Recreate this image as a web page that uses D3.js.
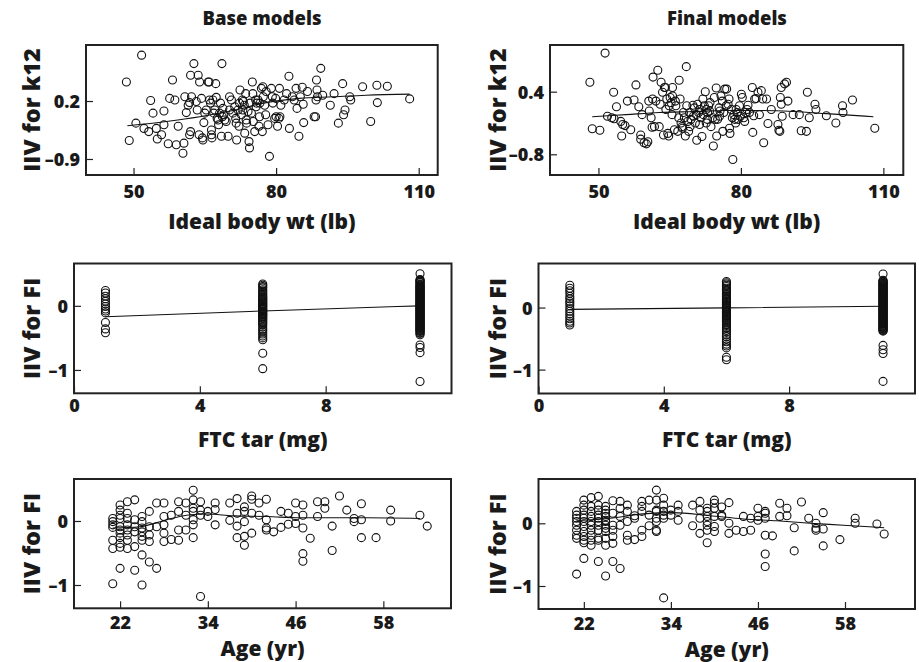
<!DOCTYPE html>
<html>
<head>
<meta charset="utf-8">
<script src="https://cdn.jsdelivr.net/npm/d3@7"></script>
<style>
  html, body { margin: 0; padding: 0; background: #fff; }
  svg text { font-family: "Open Sans", Lato, "DejaVu Sans", sans-serif; font-weight: 800; fill: #1a1a1a; }
</style>
</head>
<body>
<svg id="chart" width="919" height="662"></svg>
<script>
// ---------- DATA ----------
const columnTitles = ["Base models", "Final models"];

// Row 1: ideal body weight (lb) vs IIV for k12
const ibwBaseX = [48.5,51.7,49.1,50.5,52.2,53.2,53.6,54.1,54.8,55.0,55.9,56.4,56.4,57.3,57.6,58.2,58.7,59.0,59.4,60.4,60.6,60.8,61.1,61.5,61.8,61.8,62.0,62.0,62.2,62.7,63.2,63.4,63.6,63.8,63.9,64.3,64.5,64.6,64.8,65.0,65.3,65.7,65.9,66.0,66.2,66.4,66.4,66.5,66.7,66.9,67.1,67.3,67.4,67.6,67.8,67.9,68.1,68.3,68.5,68.6,68.7,68.8,69.0,69.2,69.5,69.9,70.2,70.2,70.6,70.9,71.3,71.5,71.6,71.7,72.0,72.2,72.3,72.4,72.7,72.9,73.0,73.1,73.3,73.4,73.6,73.7,73.8,74.1,74.3,74.4,74.5,74.8,75.0,75.1,75.2,75.5,75.7,75.8,75.9,76.2,76.4,76.5,76.6,76.9,77.1,77.2,77.3,77.6,77.8,77.9,78.3,78.6,79.0,79.2,79.3,79.7,79.9,80.0,80.3,80.6,80.7,80.8,81.0,81.7,82.2,82.7,82.8,83.4,83.8,84.2,84.4,84.8,85.1,85.5,85.7,85.8,86.6,88.0,88.3,88.4,88.5,88.6,88.7,89.4,89.8,91.4,92.2,93.1,94.0,94.2,94.5,95.5,95.7,98.2,99.9,101.2,101.3,103.4,108.1];
const ibwBaseY = [0.56,1.07,-0.55,-0.22,-0.32,-0.38,0.21,-0.03,-0.32,-0.52,-0.44,0.01,-0.25,-0.61,0.25,0.60,0.22,-0.63,-0.28,-0.79,-0.60,0.28,-0.02,0.12,0.17,-0.44,-0.38,0.69,0.28,0.91,0.19,0.03,0.69,-0.44,0.56,0.25,-0.50,-0.54,-0.21,-0.03,0.03,0.56,0.56,0.22,0.16,-0.35,-0.44,-0.50,0.22,-0.03,0.03,0.53,0.27,-0.13,-0.16,-0.25,-0.03,0.16,-0.47,0.91,-0.10,0.06,-0.06,-0.16,-0.19,-0.47,0.28,0.03,0.22,-0.03,0.09,-0.13,-0.22,-0.54,0.03,-0.28,0.16,0.41,-0.06,0.22,0.03,0.19,0.12,-0.41,0.34,-0.16,-0.22,0.00,-0.57,-0.69,0.16,-0.03,0.56,0.34,-0.19,-0.38,0.22,0.09,0.16,0.22,-0.28,-0.10,0.16,0.44,-0.38,0.47,0.28,0.12,-0.06,0.38,-0.25,-0.85,0.44,0.28,0.16,-0.13,0.25,-0.10,-0.28,-0.13,0.44,-0.10,0.12,0.22,0.34,0.67,-0.32,0.28,0.22,0.44,0.06,-0.47,0.28,0.46,0.14,-0.21,0.38,-0.10,-0.10,0.22,0.60,0.41,0.28,0.82,0.31,0.12,0.34,-0.22,0.53,-0.06,0.03,0.28,0.22,0.47,-0.19,0.50,0.17,0.48,0.24];
const ibwBaseFitX = [48.7,56.9,63.9,70.9,77.9,84.9,91.9,98.9,108.1];
const ibwBaseFitY = [-0.27,-0.19,-0.10,0.02,0.17,0.25,0.28,0.31,0.33];

const ibwFinalX = [48.2,48.7,50.3,51.4,51.9,52.8,53.2,53.3,53.8,54.7,54.9,55.1,55.6,56.1,56.8,57.5,57.9,58.5,58.9,58.9,59.2,59.6,60.1,60.4,60.6,60.7,61.1,61.3,61.4,61.5,61.8,62.1,62.5,62.8,63.0,63.2,63.5,63.7,63.9,64.1,64.2,64.4,64.6,64.8,64.9,65.1,65.3,65.5,65.6,65.6,66.0,66.2,66.3,66.7,66.9,67.0,67.2,67.4,67.6,67.7,67.9,68.1,68.3,68.5,68.6,68.8,69.0,69.2,69.3,69.5,69.9,70.0,70.2,70.4,70.6,70.7,70.9,71.1,71.3,71.4,71.6,71.8,72.0,72.1,72.3,72.5,72.7,72.7,72.9,73.0,73.2,73.4,73.5,73.7,74.1,74.2,74.4,74.6,74.8,74.9,75.1,75.4,75.5,75.6,75.8,76.1,76.2,76.4,76.6,76.9,77.0,77.3,77.5,77.6,77.7,78.0,78.2,78.3,78.5,78.7,78.9,79.0,79.2,79.4,79.7,79.9,80.1,80.3,80.6,80.8,81.0,81.3,81.5,81.8,82.4,82.5,82.7,82.9,83.2,83.6,83.9,84.3,84.6,84.8,85.4,85.7,86.4,87.8,88.0,88.2,88.3,88.5,88.5,88.7,89.2,89.6,89.9,91.0,92.3,92.7,93.8,94.0,94.4,95.6,95.8,98.0,100.0,101.4,101.5,103.5,108.2];
const ibwFinalY = [0.58,-0.31,-0.34,1.14,-0.07,-0.10,0.39,-0.12,0.11,-0.17,-0.45,-0.23,-0.25,0.22,-0.33,0.24,0.53,0.11,-0.43,-0.51,-0.04,-0.58,-0.60,-0.56,0.22,0.03,-0.10,-0.28,0.26,0.68,-0.27,0.22,0.81,-0.27,0.16,0.58,0.39,-0.43,0.48,0.48,0.06,0.26,-0.40,-0.45,0.13,0.29,0.19,-0.04,0.48,0.32,-0.33,0.22,0.13,-0.36,-0.10,0.62,0.26,-0.20,-0.27,-0.30,0.00,-0.10,-0.45,0.88,0.13,-0.17,-0.36,0.00,-0.27,-0.13,0.14,-0.07,0.09,-0.20,-0.04,-0.53,0.16,0.00,-0.23,0.06,-0.10,-0.46,0.26,-0.04,0.13,0.40,-0.20,0.06,-0.13,0.00,0.13,0.03,0.19,-0.27,-0.10,-0.64,0.29,-0.13,0.47,-0.45,-0.13,0.09,-0.07,0.03,0.32,0.22,-0.36,0.00,0.45,0.13,0.45,0.16,0.26,-0.30,-0.40,0.06,-0.10,-0.90,-0.04,-0.13,-0.20,0.06,0.00,-0.13,0.13,-0.07,0.35,0.29,-0.10,-0.17,0.00,0.06,0.14,0.00,0.48,-0.38,-0.06,0.26,0.27,0.39,-0.04,0.42,0.26,-0.58,0.26,-0.21,0.06,-0.23,-0.34,-0.36,0.29,0.48,0.16,-0.07,0.55,0.58,0.22,-0.04,-0.04,-0.35,-0.36,0.39,-0.10,0.16,0.06,-0.06,-0.20,0.13,0.00,0.24,-0.30];
const ibwFinalFitX = [48.7,55.8,62.8,69.9,76.9,83.9,91.0,98.0,107.9];
const ibwFinalFitY = [-0.08,-0.04,0.00,0.02,0.04,0.04,0.02,-0.02,-0.08];

// Row 2: FTC tar (mg) vs IIV for FI
const ftcDoses = [1, 6, 11];
const ftcBaseIIV = [
  [0.24,0.20,0.15,0.11,0.07,0.03,-0.01,-0.05,-0.08,-0.11,-0.26,-0.36,-0.42],
  [0.34,0.32,0.30,0.28,0.25,0.23,0.21,0.19,0.17,0.15,0.13,0.12,0.10,0.09,0.07,0.06,0.04,0.03,0.02,0.00,-0.01,-0.02,-0.04,-0.05,-0.06,-0.08,-0.09,-0.10,-0.12,-0.13,-0.14,-0.16,-0.17,-0.19,-0.20,-0.22,-0.24,-0.26,-0.28,-0.30,-0.33,-0.36,-0.38,-0.41,-0.44,-0.47,-0.50,-0.53,-0.74,-0.98],
  [0.50,0.41,0.40,0.39,0.38,0.37,0.36,0.34,0.33,0.32,0.31,0.30,0.29,0.28,0.27,0.26,0.25,0.24,0.23,0.22,0.21,0.20,0.19,0.18,0.17,0.16,0.15,0.14,0.13,0.12,0.11,0.10,0.09,0.08,0.07,0.06,0.05,0.04,0.03,0.02,0.01,0.00,-0.01,-0.02,-0.03,-0.04,-0.05,-0.06,-0.07,-0.08,-0.09,-0.10,-0.11,-0.12,-0.13,-0.14,-0.15,-0.16,-0.17,-0.18,-0.19,-0.20,-0.21,-0.22,-0.23,-0.24,-0.25,-0.26,-0.27,-0.28,-0.29,-0.30,-0.31,-0.32,-0.33,-0.34,-0.35,-0.36,-0.37,-0.38,-0.39,-0.40,-0.42,-0.43,-0.45,-0.61,-0.65,-0.73,-1.18]
];
const ftcBaseFitY = [-0.17, -0.08, 0.0];
const ftcFinalIIV = [
  [0.36,0.31,0.27,0.23,0.18,0.14,0.10,0.07,0.03,-0.02,-0.06,-0.10,-0.14,-0.18,-0.22,-0.25,-0.28],
  [0.42,0.40,0.38,0.36,0.34,0.31,0.29,0.27,0.25,0.23,0.21,0.19,0.18,0.16,0.14,0.13,0.11,0.10,0.08,0.07,0.05,0.04,0.02,0.01,-0.01,-0.02,-0.04,-0.05,-0.07,-0.08,-0.10,-0.11,-0.13,-0.14,-0.16,-0.18,-0.19,-0.21,-0.23,-0.25,-0.27,-0.29,-0.32,-0.34,-0.37,-0.40,-0.44,-0.47,-0.51,-0.55,-0.59,-0.62,-0.65,-0.80,-0.84],
  [0.54,0.44,0.43,0.42,0.41,0.40,0.39,0.38,0.37,0.36,0.35,0.34,0.33,0.32,0.31,0.30,0.29,0.28,0.27,0.26,0.25,0.24,0.23,0.22,0.21,0.20,0.19,0.18,0.17,0.16,0.15,0.14,0.13,0.12,0.11,0.10,0.09,0.08,0.07,0.06,0.05,0.04,0.03,0.02,0.01,0.00,-0.01,-0.02,-0.03,-0.04,-0.05,-0.06,-0.07,-0.08,-0.09,-0.10,-0.11,-0.12,-0.13,-0.14,-0.15,-0.16,-0.17,-0.18,-0.19,-0.20,-0.21,-0.22,-0.23,-0.24,-0.25,-0.26,-0.27,-0.28,-0.29,-0.30,-0.31,-0.32,-0.33,-0.34,-0.35,-0.36,-0.37,-0.38,-0.61,-0.68,-0.74,-1.19]
];
const ftcFinalFitY = [-0.03, -0.005, 0.02];

// Row 3: age (yr) vs IIV for FI
const ageBaseX = [21,21,21,21,21,21,21, 22,22,22,22,22,22,22,22,22,22,22, 23,23,23,23,23,23,23,23, 24,24,24,24,24,24, 25,25,25,25,25,25,25,25, 26,26,26,26,26, 27,27,27, 28,28,28,28,28, 29,29, 30,30,30,30, 31,31,31, 32,32,32,32,32,32,32, 33,33,33,33, 34,34, 35,35,35, 37,37, 38,38,38,38, 39,39,39,39,39, 40,40,40,40, 41,41, 42,42,42,42, 43, 44,44, 45,45, 46,46,46, 47,47,47,47,47, 48, 49,49, 50,50, 51,51, 52, 53, 54,54, 55,55,55, 57, 59,59, 63, 64];
const ageBaseY = [0.04,-0.01,-0.06,-0.10,-0.30,-0.43,-0.98, 0.25,0.17,0.09,0.04,-0.09,-0.14,-0.19,-0.26,-0.35,-0.41,-0.74, 0.30,0.12,0.04,-0.06,-0.14,-0.22,-0.30,-0.43, 0.33,0.02,-0.09,-0.17,-0.40,-0.77, 0.07,-0.01,-0.11,-0.17,-0.24,-0.30,-0.53,-1.00, 0.15,-0.09,-0.22,-0.32,-0.64, 0.28,-0.09,-0.74, 0.28,0.07,-0.06,-0.19,-0.32, 0.09,-0.29, 0.30,0.15,-0.14,-0.30, 0.28,0.09,-0.14, 0.48,0.33,0.20,0.15,0.02,-0.06,-0.26, 0.30,0.17,0.09,-1.18, 0.15,0.07, 0.28,0.18,-0.06, 0.28,0.01, 0.35,0.12,-0.08,-0.26, 0.22,0.15,-0.01,-0.24,-0.38, 0.39,0.34,0.12,-0.19, 0.28,0.09, 0.34,0.02,-0.11,-0.14, -0.17, 0.15,-0.10, 0.12,-0.05, 0.28,0.07,-0.04, 0.25,0.09,-0.11,-0.51,-0.63, -0.27, 0.30,0.07, 0.30,0.20, -0.08,-0.46, 0.39, 0.17, 0.04,-0.01, 0.27,0.02,-0.26, -0.26, 0.17,0.00, 0.09, -0.08];
const ageBaseFitX = [21.0,24.7,28.4,31.1,33.9,37.5,42.1,46.6,51.2,55.7,63.0];
const ageBaseFitY = [-0.11,-0.09,0.02,0.09,0.11,0.08,0.07,0.05,0.05,0.05,0.04];

const ageFinalX = [21,21,21,21,21,21,21,21,21, 22,22,22,22,22,22,22,22,22,22,22,22, 23,23,23,23,23,23,23,23,23,23, 24,24,24,24,24,24,24,24,24,24,24, 25,25,25,25,25,25,25,25,25,25,25,25, 26,26,26,26,26,26,26, 27,27,27,27,27, 28,28,28,28,28, 29,29,29, 30,30,30,30,30, 31,31,31, 32,32,32,32,32,32,32,32, 33,33,33,33,33,33, 34,34, 35,35,35, 37,37, 38,38,38,38, 39,39,39,39,39,39,39, 40,40,40,40,40,40, 41,41,41, 42,42,42, 43, 44,44, 45,45, 46,46,46, 47,47,47,47,47,47, 48, 49,49, 50,50, 51,51, 52, 53, 54,54,54, 55,55,55, 57.3, 59.4,59.4, 62.4, 63.4];
const ageFinalY = [0.19,0.13,0.08,0.03,-0.03,-0.11,-0.19,-0.24,-0.81, 0.37,0.29,0.21,0.13,0.08,0.03,-0.05,-0.13,-0.21,-0.27,-0.31,-0.56, 0.41,0.27,0.19,0.11,0.03,-0.03,-0.11,-0.19,-0.27,-0.35, 0.43,0.29,0.21,0.13,0.08,0.03,-0.03,-0.11,-0.24,-0.27,-0.61, 0.27,0.21,0.16,0.11,0.05,0.03,-0.03,-0.08,-0.13,-0.24,-0.35,-0.84, 0.36,0.16,-0.03,-0.11,-0.21,-0.32,-0.61, 0.35,0.24,0.11,-0.03,-0.72, 0.29,0.19,0.03,-0.19,-0.27, 0.12,0.08,-0.26, 0.35,0.27,0.19,-0.11,-0.21, 0.37,0.13,-0.04, 0.53,0.37,0.21,0.19,0.08,0.03,-0.11,-0.13, 0.40,0.29,0.19,0.13,0.08,-1.19, 0.21,0.13, 0.29,0.19,0.05, 0.29,-0.04, 0.35,0.21,0.08,-0.16, 0.24,0.19,0.11,0.03,-0.03,-0.11,-0.31, 0.37,0.32,0.24,0.11,-0.05,-0.13, 0.26,0.13,0.11, 0.33,0.00,-0.16, -0.11, 0.11,-0.13, 0.08,-0.11, 0.24,0.11,0.05, 0.19,0.16,0.08,-0.19,-0.49,-0.69, -0.20, 0.32,0.11, 0.24,0.12, -0.07,-0.44, 0.34, 0.08, 0.00,-0.08,-0.11, 0.17,-0.09,-0.36, -0.26, 0.08,0.00, -0.01, -0.17];
const ageFinalFitX = [21.0,25.6,30.2,34.3,39.4,44.0,48.6,53.2,57.8,63.4];
const ageFinalFitY = [0.04,0.08,0.15,0.17,0.12,0.07,0.04,0.00,-0.03,-0.07];

// tick values and labels
const ibwTicks = [50, 80, 110];
const ftcTicks = [0, 4, 8];
const ageTicks = [22, 34, 46, 58];
const k12BaseTicks = [0.2, -0.9];
const k12FinalTicks = [0.4, -0.8];
const fiTicks = [0, -1];
const xTitles = ["Ideal body wt (lb)", "FTC tar (mg)", "Age (yr)"];
const yTitles = ["IIV for k12", "IIV for FI", "IIV for FI"];

// ---------- BUILD POINTS ----------
const zip = (xs, ys) => xs.map((x, i) => ({x, y: ys[i]}));
const ftcPoints = (groups) => groups.flatMap((vals, i) => vals.map(v => ({x: ftcDoses[i], y: v})));

const fmt = v => (v < 0 ? "\u2013" + String(Math.abs(v)) : String(v));

const panels = [
  { box: [86, 45, 437.7, 175], xd: [40, 114], yd: [-1.204, 1.263], xt: ibwTicks, yt: k12BaseTicks,
    pts: zip(ibwBaseX, ibwBaseY), fit: zip(ibwBaseFitX, ibwBaseFitY), row: 0, col: 0 },
  { box: [550, 45, 903.3, 175], xd: [39.8, 114.2], yd: [-1.197, 1.295], xt: ibwTicks, yt: k12FinalTicks,
    pts: zip(ibwFinalX, ibwFinalY), fit: zip(ibwFinalFitX, ibwFinalFitY), row: 0, col: 1 },
  { box: [74, 263.5, 451.5, 393.3], xd: [0, 12], yd: [-1.364, 0.66], xt: ftcTicks, yt: fiTicks,
    pts: ftcPoints(ftcBaseIIV), fit: zip(ftcDoses, ftcBaseFitY), row: 1, col: 0 },
  { box: [538.5, 263.5, 915, 393.5], xd: [0, 12.02], yd: [-1.385, 0.71], xt: ftcTicks, yt: fiTicks,
    pts: ftcPoints(ftcFinalIIV), fit: zip(ftcDoses, ftcFinalFitY), row: 1, col: 1 },
  { box: [74, 479, 451, 608.3], xd: [15.7, 67.25], yd: [-1.364, 0.656], xt: ageTicks, yt: fiTicks,
    pts: zip(ageBaseX, ageBaseY), fit: zip(ageBaseFitX, ageBaseFitY), row: 2, col: 0 },
  { box: [538.5, 479, 915, 609], xd: [15.75, 67.65], yd: [-1.367, 0.707], xt: ageTicks, yt: fiTicks,
    pts: zip(ageFinalX, ageFinalY), fit: zip(ageFinalFitX, ageFinalFitY), row: 2, col: 1 }
];

const rowTickBaseline = [23, 18.5, 20.5];
const rowTitleBaseline = [54, 53.5, 48];
const yTitleBase = [40, 506];
const fontStack = '"Open Sans", Lato, "DejaVu Sans", sans-serif';

const svg = d3.select("#chart");

// column titles
svg.selectAll("text.coltitle").data(columnTitles).enter().append("text")
  .attr("class", "coltitle")
  .attr("x", (d, i) => i === 0 ? 262 : 727)
  .attr("y", 25)
  .attr("text-anchor", "middle")
  .style("font-size", "18.5px")
  .text(d => d);

panels.forEach(p => {
  const [x0, y0, x1, y1] = p.box;
  const xs = d3.scaleLinear().domain(p.xd).range([x0, x1]);
  const ys = d3.scaleLinear().domain(p.yd).range([y1, y0]);
  const g = svg.append("g");

  // x axis (ticks inward)
  const xa = g.append("g").attr("transform", `translate(0,${y1})`)
    .call(d3.axisBottom(xs).tickValues(p.xt).tickSizeInner(-7).tickSizeOuter(0).tickFormat(fmt));
  xa.attr("font-family", fontStack).attr("font-size", 18).attr("font-weight", 800);
  xa.select(".domain").remove();
  xa.selectAll(".tick line").attr("stroke", "#222").attr("stroke-width", 1.2);
  xa.selectAll(".tick text").attr("y", rowTickBaseline[p.row]).attr("dy", 0)
    .style("font-size", "18px").style("font-weight", 800).style("font-family", fontStack).attr("fill", "#1a1a1a");

  // y axis (ticks inward)
  const ya = g.append("g").attr("transform", `translate(${x0},0)`)
    .call(d3.axisLeft(ys).tickValues(p.yt).tickSizeInner(-7).tickSizeOuter(0).tickFormat(fmt));
  ya.attr("font-family", fontStack).attr("font-size", 18).attr("font-weight", 800);
  ya.select(".domain").remove();
  ya.selectAll(".tick line").attr("stroke", "#222").attr("stroke-width", 1.2);
  ya.selectAll(".tick text").attr("x", -6).attr("dy", "0.36em")
    .style("font-size", "18px").style("font-weight", 800).style("font-family", fontStack).attr("fill", "#1a1a1a");

  // points
  g.append("g").selectAll("circle").data(p.pts).enter().append("circle")
    .attr("cx", d => xs(d.x)).attr("cy", d => ys(d.y)).attr("r", 4)
    .attr("fill", "none").attr("stroke", "#111").attr("stroke-width", 1.1);

  // smooth / fit line
  g.append("path").datum(p.fit)
    .attr("d", d3.line().x(d => xs(d.x)).y(d => ys(d.y)).curve(d3.curveMonotoneX))
    .attr("fill", "none").attr("stroke", "#111").attr("stroke-width", 1.1);

  // frame
  g.append("rect").attr("x", x0).attr("y", y0).attr("width", x1 - x0).attr("height", y1 - y0)
    .attr("fill", "none").attr("stroke", "#222").attr("stroke-width", 2);

  // x title
  g.append("text").attr("x", (x0 + x1) / 2).attr("y", y1 + rowTitleBaseline[p.row])
    .attr("text-anchor", "middle").style("font-size", "21px").text(xTitles[p.row]);

  // y title
  const cy = (y0 + y1) / 2;
  g.append("text").attr("transform", `translate(${yTitleBase[p.col]},${cy}) rotate(-90)`)
    .attr("text-anchor", "middle").style("font-size", "23.5px").text(yTitles[p.row]);
});
</script>
</body>
</html>
